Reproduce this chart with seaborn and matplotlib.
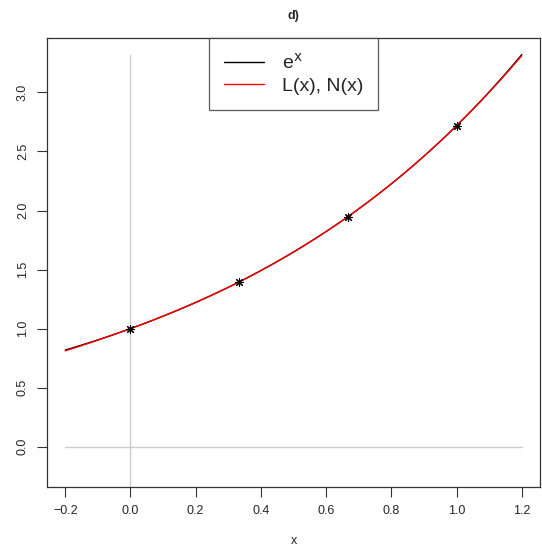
import numpy as np
import pandas as pd
import seaborn as sns
import matplotlib
matplotlib.use("Agg")
import matplotlib.pyplot as plt
from matplotlib.lines import Line2D

# data
node_x = [0.0, 1/3, 2/3, 1.0]
node_y = [1.0, 1.3956, 1.9477, 2.7183]
x_range = [-0.2, 1.2]
x_ticks = [-0.2, 0.0, 0.2, 0.4, 0.6, 0.8, 1.0, 1.2]
y_ticks = [0.0, 0.5, 1.0, 1.5, 2.0, 2.5, 3.0]
labels = ["e$^{\\mathrm{x}}$", "L(x), N(x)"]
title = "d)"

sns.set_theme(style="white")
plt.rcParams['font.family'] = ['Liberation Sans', 'DejaVu Sans']

grid = np.linspace(x_range[0], x_range[1], 300)
ex = np.exp(grid)
coef = np.polyfit(node_x, node_y, 3)
lx = np.polyval(coef, grid)
df = pd.DataFrame({"x": np.concatenate([grid, grid]),
                   "y": np.concatenate([ex, lx]),
                   "s": [labels[0]] * len(grid) + [labels[1]] * len(grid)})
pts = pd.DataFrame({"x": node_x, "y": node_y})

fig = plt.figure(figsize=(5.42, 5.5), dpi=100)
ax = fig.add_axes([47/542, 1 - 487/550, (540-47)/542, (487-38)/550])

ymax = float(np.exp(x_range[1]))
ylo = -0.2
# reference lines
ax.plot(x_range, [0, 0], color="#cccccc", lw=1, zorder=1)
ax.plot([0, 0], [ylo - 1, ymax], color="#cccccc", lw=1, zorder=1)

sns.lineplot(data=df, x="x", y="y", hue="s", palette=["black", "red"],
             ax=ax, legend=False, lw=1, sort=False, zorder=2)
sns.scatterplot(data=pts, x="x", y="y", marker=(8, 2, 0), s=32, color="black",
                linewidth=0.8, ax=ax, zorder=3)

xr = x_range[1] - x_range[0]
ax.set_xlim(x_range[0] - 0.04 * xr, x_range[1] + 0.04 * xr)
yr = ymax - ylo
ax.set_ylim(ylo - 0.04 * yr, ymax + 0.04 * yr)
ax.set_xticks(x_ticks)
ax.set_xticklabels([f"{t:.1f}".replace("-", "\u2212") for t in x_ticks])
ax.set_yticks(y_ticks)
ax.set_yticklabels([f"{t:.1f}" for t in y_ticks], rotation=90, va="center")
ax.tick_params(axis="both", direction="out", length=7, width=0.8, color="#333333",
               labelsize=9, pad=6, bottom=True, left=True)
for sp in ax.spines.values():
    sp.set_color("#333333")
    sp.set_linewidth(0.9)
ax.set_xlabel("x", fontsize=9, labelpad=13)
ax.set_ylabel("")
ax.set_title(title, fontsize=9, fontweight="bold", pad=14)

handles = [Line2D([0], [0], color="black", lw=1), Line2D([0], [0], color="red", lw=1)]
leg = ax.legend(handles, labels, loc="upper center", bbox_to_anchor=(0.5, 1.0),
                fontsize=14, frameon=True, fancybox=False, edgecolor="#333333",
                handlelength=2.1, handletextpad=0.9, borderpad=0.75,
                labelspacing=0.25, borderaxespad=0)
leg.get_frame().set_linewidth(0.9)

fig.savefig("out.png", dpi=100)
